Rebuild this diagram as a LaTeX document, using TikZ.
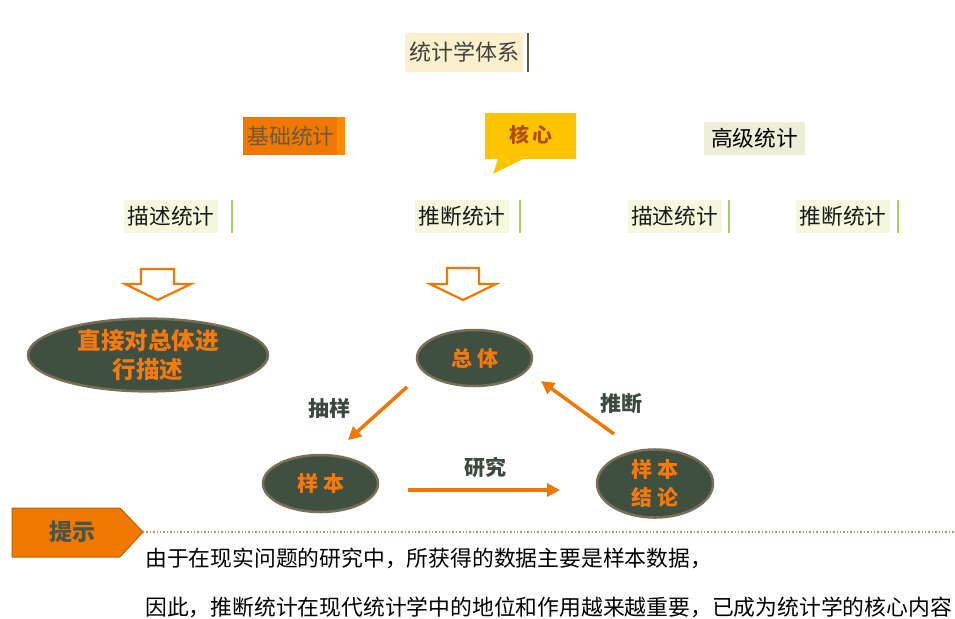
\documentclass[tikz,border=0pt]{standalone}
\usepackage{fontspec}
\setmainfont{Noto Sans CJK SC}
\usetikzlibrary{shapes.geometric,arrows.meta}
\definecolor{orng}{HTML}{F07800}
\definecolor{orngl}{HTML}{FF8A00}
\definecolor{titlefill}{HTML}{FCF0CC}
\definecolor{titlebar}{HTML}{5A5A40}
\definecolor{callout}{HTML}{FFC400}
\definecolor{callouttext}{HTML}{B04E00}
\definecolor{hifill}{HTML}{EEEED6}
\definecolor{subfill}{HTML}{F5F8DC}
\definecolor{subbar}{HTML}{A8D060}
\definecolor{ellfill}{HTML}{3F5040}
\definecolor{ellborder}{HTML}{7A6E58}
\definecolor{ellt}{HTML}{F47A10}
\definecolor{lbl}{HTML}{3B4A40}
\definecolor{dots}{HTML}{A89878}
\definecolor{tagtext}{HTML}{4A5545}
\definecolor{basetext}{HTML}{6B5A3A}
\begin{document}
\begin{tikzpicture}[x=1pt,y=-1pt,
  boxtext/.style={inner sep=0pt, font=\fontsize{21.7}{26}\selectfont},
  subbox/.style={boxtext, fill=subfill, minimum width=94pt, minimum height=33pt, text=black!90},
  barline/.style={subbar, line width=2.5pt},
  ellnode/.style={ellipse, fill=ellfill, draw=ellborder, line width=2.5pt, inner sep=0pt,
     text=ellt, font=\bfseries\fontsize{21}{30}\selectfont, align=center},
  hollow/.style={draw=orng, line width=2.2pt, fill=white, line join=miter},
  flow/.style={orng, line width=3.5pt, -{Triangle[length=13pt,width=13pt]}},
  flowlbl/.style={text=lbl, font=\bfseries\fontsize{21}{24}\selectfont, inner sep=0pt},
  bodytext/.style={anchor=west, inner sep=0pt, text=black, font=\fontsize{21.8}{26}\selectfont}
]
\useasboundingbox (0,0) rectangle (955,618);
\fill[white] (0,0) rectangle (955,618);

% title
\node[boxtext, fill=titlefill, rounded corners=2pt, minimum width=118pt, minimum height=39pt, text=black!75, font=\fontsize{22}{26}\selectfont] (title) at (464,52.5) {统计学体系};
\draw[titlebar, line width=2.5pt] (528,33) -- (528,72);

% basic statistics
\node[boxtext, fill=orng, minimum width=102pt, minimum height=38pt, text=basetext] (basic) at (294,136) {\hspace*{-6pt}基础统计};
\fill[orngl] (337,117) rectangle (345,155);

% callout
\fill[callout] (485,113) -- (576,113) -- (576,159) -- (523,159) -- (493,174) -- (498,159) -- (485,159) -- cycle;
\node[inner sep=0pt, text=callouttext, font=\bfseries\fontsize{20}{24}\selectfont] (core) at (531,135) {核\hspace{3pt}心};

% advanced
\node[boxtext, fill=hifill, minimum width=101pt, minimum height=33pt, text=black] (adv) at (754.5,138.5) {高级统计};

% sub boxes
\node[subbox] (d1) at (171,216.5) {描述统计};
\draw[barline] (232,200) -- (232,233);
\node[subbox] (t1) at (462,216.5) {推断统计};
\draw[barline] (520,200) -- (520,233);
\node[subbox] (d2) at (674.5,216.5) {描述统计};
\draw[barline] (729,200) -- (729,233);
\node[subbox] (t2) at (843,216.5) {推断统计};
\draw[barline] (898,200) -- (898,233);

% hollow arrows
\draw[hollow] (141,269) -- (174,269) -- (174,284) -- (191,284) -- (157.5,300) -- (125,284) -- (141,284) -- cycle;
\draw[hollow] (447,268) -- (479,268) -- (479,284) -- (496,284) -- (463,300) -- (430,284) -- (447,284) -- cycle;

% ellipses
\node[ellnode, minimum width=240pt, minimum height=56pt, font=\bfseries\fontsize{23.5}{30}\selectfont] (direct) at (148,355) {直接对总体进\\[-1pt]行描述};
\node[ellnode, minimum width=115pt, minimum height=56pt] (pop) at (474.5,358) {总\hspace{5pt}体};
\node[ellnode, minimum width=115pt, minimum height=57pt] (samp) at (320.5,483.5) {样\hspace{5pt}本};
\node[ellnode, minimum width=116pt, minimum height=57pt, font=\bfseries\fontsize{21}{28}\selectfont] (concl) at (655,483.5) {样\hspace{5pt}本\\结\hspace{5pt}论};

% flow arrows
\coordinate (a1s) at (407,387);
\coordinate (a1e) at (348,440);
\coordinate (a2s) at (614,434);
\coordinate (a2e) at (541,381);
\coordinate (a3s) at (408,490);
\coordinate (a3e) at (560,490);
\draw[flow] (a1s) -- (a1e);
\draw[flow] (a2s) -- (a2e);
\draw[flow] (a3s) -- (a3e);
\node[flowlbl] (l1) at (329,408) {抽样};
\node[flowlbl] (l2) at (621,404) {推断};
\node[flowlbl] (l3) at (485,467) {研究};

% tip tag
\node[inner sep=0pt, minimum width=0pt] (tipend) at (143,532) {};
\filldraw[fill=orng, draw=orng!80!black, line width=1pt] (12,508) -- (120,508) -- (tipend.center) -- (120,557) -- (12,557) -- cycle;
\node[inner sep=0pt, text=tagtext, font=\bfseries\fontsize{23}{26}\selectfont] (tip) at (72,532) {提示};
\coordinate (lineend) at (955,532);
\draw[dots, line width=1.4pt, dotted] (tipend.center) -- (lineend);

% body text
\node[bodytext] (line1) at (145,558) {由于在现实问题的研究中，所获得的数据主要是样本数据，};
\node[bodytext] (line2) at (145,607) {因此，推断统计在现代统计学中的地位和作用越来越重要，已成为统计学的核心内容};
\end{tikzpicture}
\end{document}
